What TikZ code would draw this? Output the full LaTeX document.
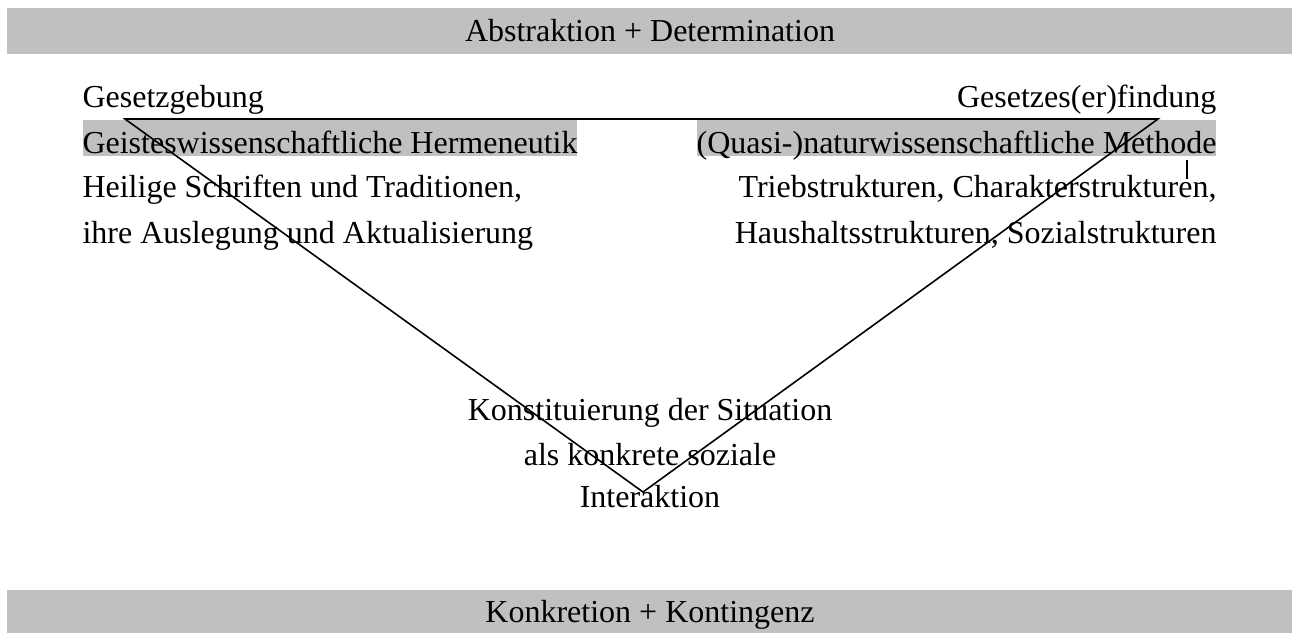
\documentclass[tikz,border=0pt]{standalone}
\usepackage{fontspec}
\setmainfont{Liberation Serif}
\usepackage{xcolor}
\usetikzlibrary{positioning,calc}
\definecolor{barGray}{RGB}{192,192,192}

\begin{document}
\begin{tikzpicture}[
    x=0.375pt, y=-0.375pt,
    txt/.style={inner sep=0pt, font=\fontsize{12}{14}\selectfont},
    lefttxt/.style={txt, anchor=base west},
    righttxt/.style={txt, anchor=base east},
    midtxt/.style={txt, anchor=base},
    hilite/.style={fill=barGray, text height=12.2pt, text depth=1.3pt},
    edge/.style={line width=0.6pt},
    tick/.style={line width=0.4pt}
]
\useasboundingbox (0,0) rectangle (1292,633);

% Bars
\fill[barGray] (7,8) rectangle (1292,54);
\fill[barGray] (7,590) rectangle (1292,633);
\node[midtxt] (abstr) at (650,41) {Abstraktion + Determination};
\node[midtxt] (konkr) at (650,622) {Konkretion + Kontingenz};

% Left column
\node[lefttxt] (gesetz) at (82,107) {Gesetzgebung};
\node[lefttxt, hilite] (herm) at (82,153) {Geisteswissenschaftliche Hermeneutik};
\node[lefttxt] (heilig) at (82,197) {Heilige Schriften und Traditionen,};
\node[lefttxt] (ausleg) at (82,243) {ihre Auslegung und Aktualisierung};

% Right column
\node[righttxt] (findung) at (1217,107) {Gesetzes(er)findung};
\node[righttxt, hilite] (methode) at (1217,153) {(Quasi-)naturwissenschaftliche Methode};
\node[righttxt] (trieb) at (1217,197) {Triebstrukturen, Charakterstrukturen,};
\node[righttxt] (haus) at (1217,243) {Haushaltsstrukturen, Sozialstrukturen};

% Situation
\node[midtxt] (konst) at (650,420) {Konstituierung der Situation};
\node[midtxt] (sozial) at (650,465) {als konkrete soziale};
\node[midtxt] (inter) at (650,507) {Interaktion};

% Triangle
\coordinate (tl) at (125,119);
\coordinate (tr) at (1158,119);
\coordinate (bot) at (643,492);
\draw[edge] (tl) -- (tr) -- (bot) -- cycle;

\coordinate (tickA) at (1187,160);
\coordinate (tickB) at (1187,179);
\draw[tick] (tickA) -- (tickB);

\end{tikzpicture}
\end{document}
